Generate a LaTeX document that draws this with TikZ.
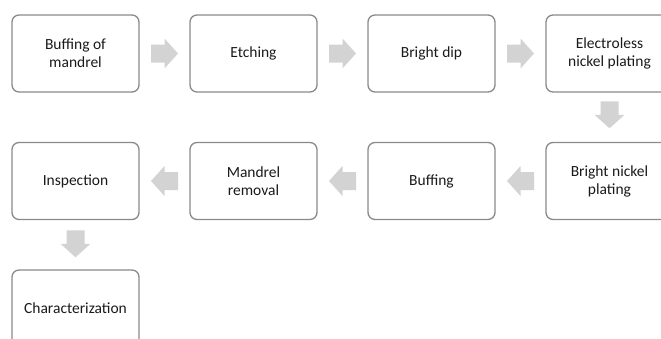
\documentclass[tikz,border=0pt]{standalone}
\usepackage{fontspec}
\setmainfont{Carlito}
\usetikzlibrary{calc}
\definecolor{boxline}{HTML}{8A8A8A}
\definecolor{arrowgray}{HTML}{D3D3D3}
\definecolor{txt}{HTML}{1A1A1A}
\tikzset{
  stepbox/.style={draw=boxline, line width=1.3pt, fill=white, rounded corners=7pt,
    minimum width=127pt, minimum height=77pt, align=center, text=txt,
    font=\fontsize{15.5pt}{18pt}\selectfont, inner sep=2pt},
  blockarrow/.pic={\fill[arrowgray] (-13.5,-9) -- (0,-9) -- (0,-15) -- (13.5,0) -- (0,15) -- (0,9) -- (-13.5,9) -- cycle;}
}
\begin{document}
\begin{tikzpicture}[x=1pt,y=-1pt]
\useasboundingbox (0,0) rectangle (661,338);
\clip (0,0) rectangle (661,338);
\node[stepbox] (b1) at (75.5,53.5) {Buffing of\\mandrel};
\node[stepbox] (b2) at (253.5,53.5) {Etching};
\node[stepbox] (b3) at (431.5,53.5) {Bright dip};
\node[stepbox] (b4) at (609.5,53.5) {Electroless\\nickel plating};
\node[stepbox] (b5) at (609.5,181) {Bright nickel\\plating};
\node[stepbox] (b6) at (431.5,181) {Buffing};
\node[stepbox] (b7) at (253.5,181) {Mandrel\\removal};
\node[stepbox] (b8) at (75.5,181) {Inspection};
\node[stepbox] (b9) at (75.5,308.5) {Characterization};
\pic at ($(b1.east)!0.5!(b2.west)$) {blockarrow};
\pic at ($(b2.east)!0.5!(b3.west)$) {blockarrow};
\pic at ($(b3.east)!0.5!(b4.west)$) {blockarrow};
\pic[rotate=-90] at ($(b4.south)!0.45!(b5.north)$) {blockarrow};
\pic[rotate=180] at ($(b5.west)!0.5!(b6.east)$) {blockarrow};
\pic[rotate=180] at ($(b6.west)!0.5!(b7.east)$) {blockarrow};
\pic[rotate=180] at ($(b7.west)!0.5!(b8.east)$) {blockarrow};
\pic[rotate=-90] at ($(b8.south)!0.48!(b9.north)$) {blockarrow};
\end{tikzpicture}
\end{document}
